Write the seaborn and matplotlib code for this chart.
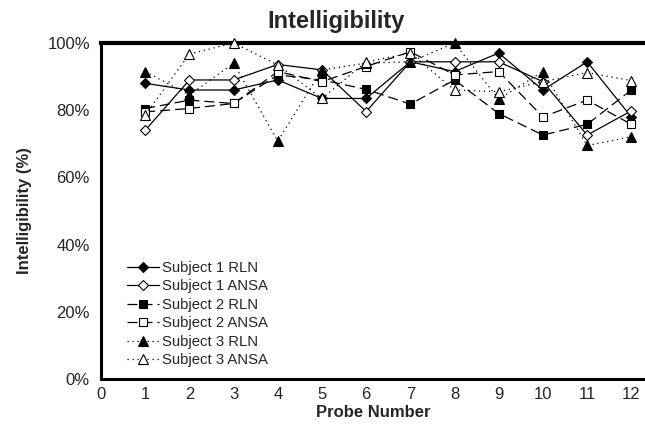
import pandas as pd
import numpy as np
import matplotlib
matplotlib.use("Agg")
import matplotlib.pyplot as plt
from matplotlib.ticker import FuncFormatter
import seaborn as sns

# values (percent)
probes = [1, 2, 3, 4, 5, 6, 7, 8, 9, 10, 11, 12]
s1_rln = [88, 86, 86, 89, 83.5, 83.5, 94.4, 91.5, 97, 86, 94.4, 78]
s1_ansa = [74, 89, 89, 93.6, 92, 79.6, 94.4, 94.4, 94.4, 88.5, 72.6, 79.8]
s2_rln = [80.5, 83, 82, 90.5, 89, 86.2, 81.8, 89, 79, 72.6, 75.8, 86]
s2_ansa = [79.5, 80.5, 82, 91.5, 88.5, 93, 97.4, 90.5, 91.5, 78, 83, 75.8]
s3_rln = [91.5, 84.5, 94, 70.8, 92, 94, 94.4, 100, 83.3, 91.5, 69.5, 72.1]
s3_ansa = [78.6, 96.7, 100, 93.5, 83.5, 94.4, 97, 86, 85.5, 88.5, 91.2, 88.8]

series_names = ["Subject 1 RLN", "Subject 1 ANSA", "Subject 2 RLN",
                "Subject 2 ANSA", "Subject 3 RLN", "Subject 3 ANSA"]
series_vals = [s1_rln, s1_ansa, s2_rln, s2_ansa, s3_rln, s3_ansa]

df = pd.DataFrame({"Probe": probes * 6,
                   "Intelligibility": np.concatenate(series_vals),
                   "Series": np.repeat(series_names, len(probes))})

sns.set_style("white")
plt.rcParams["font.family"] = ["Liberation Sans", "DejaVu Sans"]

fig = plt.figure(figsize=(6.45, 4.4), dpi=100)
ax = fig.add_axes([101 / 645, 61 / 440, 544 / 645, 336 / 440])

styles = {
    "Subject 1 RLN": dict(marker="D", ls="-", mfc="black", ms=5.5),
    "Subject 1 ANSA": dict(marker="D", ls="-", mfc="white", ms=5.5),
    "Subject 2 RLN": dict(marker="s", ls=(0, (8, 4)), mfc="black", ms=6),
    "Subject 2 ANSA": dict(marker="s", ls=(0, (8, 4)), mfc="white", ms=6),
    "Subject 3 RLN": dict(marker="^", ls=(0, (1, 3)), mfc="black", ms=7),
    "Subject 3 ANSA": dict(marker="^", ls=(0, (1, 3)), mfc="white", ms=7),
}

for name in series_names:
    st = styles[name]
    sns.lineplot(data=df[df["Series"] == name], x="Probe", y="Intelligibility",
                 ax=ax, color="black", lw=0.9, linestyle=st["ls"],
                 marker=st["marker"], markersize=st["ms"],
                 markerfacecolor=st["mfc"], markeredgecolor="black",
                 markeredgewidth=0.8, label=name, clip_on=False, zorder=3)

ax.set_xlim(0, 12.31)
ax.set_ylim(0, 100)
ax.set_xticks(range(0, 13))
ax.set_yticks(range(0, 101, 20))
ax.yaxis.set_major_formatter(FuncFormatter(lambda v, p: f"{int(v)}%"))
ax.tick_params(axis="both", direction="out", length=5, width=1.5,
               labelsize=12, color="black")
ax.tick_params(axis="x", pad=0.5)
ax.tick_params(axis="y", pad=3)

for side in ["left", "bottom"]:
    ax.spines[side].set_linewidth(2.2)
    ax.spines[side].set_color("black")
ax.spines["top"].set_linewidth(3)
ax.spines["top"].set_color("black")
ax.spines["right"].set_visible(False)

ax.set_xlabel("Probe Number", fontsize=12, fontweight="bold", labelpad=2.5)
ax.set_ylabel("Intelligibility (%)", fontsize=12, fontweight="bold", labelpad=11)
fig.text(336 / 645, 1 - 28 / 440, "Intelligibility", fontsize=17,
         fontweight="bold", ha="center", va="baseline")

ax.legend(loc="lower left", bbox_to_anchor=(0.035, 0.013), frameon=False,
          fontsize=10.7, handlelength=2.1, handletextpad=0.2,
          labelspacing=0.3, borderpad=0)

fig.savefig("out.png", dpi=100)
